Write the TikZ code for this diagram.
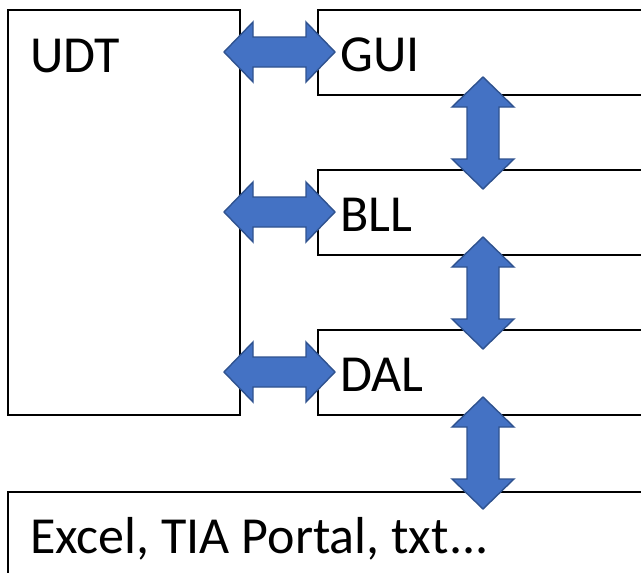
\documentclass[tikz,border=0pt]{standalone}
\usepackage{fontspec}
\setmainfont{Carlito}
\definecolor{arrowfill}{HTML}{4472C4}
\definecolor{arrowedge}{HTML}{2F528F}

% horizontal double block arrow centred at height #1
\newcommand{\hblockarrow}[2]{%
  \filldraw[blockarrow] (224,#1) -- ++(29,-30) -- ++(0,15) -- ++(53,0) -- ++(0,-15)
    -- (335,#1) -- ++(-29,30) -- ++(0,-15) -- ++(-53,0) -- ++(0,15) -- cycle;
  \coordinate (#2) at (279.5,#1);}
% vertical double block arrow with upper tip at #1
\newcommand{\vblockarrow}[2]{%
  \filldraw[blockarrow] (483,#1) -- ++(31,30) -- ++(-15,0) -- ++(0,52) -- ++(15,0)
    -- (483,#1+112) -- ++(-31,-30) -- ++(15,0) -- ++(0,-52) -- ++(-15,0) -- cycle;
  \coordinate (#2) at (483,#1+56);}

\begin{document}
\begin{tikzpicture}[x=1pt,y=-1pt,
  layer/.style={draw=black,line width=2pt,fill=white},
  blockarrow/.style={fill=arrowfill,draw=arrowedge,line width=1.4pt,line join=miter},
  lbl/.style={anchor=base west,inner sep=0pt,font=\fontsize{52}{58}\selectfont}]
\useasboundingbox (0,0) rectangle (641,573);
\begin{scope}
\clip (0,0) rectangle (641,573);
% layer boxes
\draw[layer] (8,10) rectangle (240,415);
\draw[layer] (318,10) rectangle (680,95);
\draw[layer] (318,170) rectangle (680,255);
\draw[layer] (318,330) rectangle (680,415);
\draw[layer] (8,492) rectangle (680,620);
\end{scope}
% labels
\node[lbl] (udt) at (30,72) {UDT};
\node[lbl] (gui) at (340,71) {GUI};
\node[lbl] (bll) at (340,231) {BLL};
\node[lbl] (dal) at (340,391) {DAL};
\node[lbl] (ext) at (30,553) {Excel, TIA Portal, txt...};
% arrows between the layers
\hblockarrow{52}{udtgui}
\hblockarrow{212}{udtbll}
\hblockarrow{372}{udtdal}
\vblockarrow{77}{guibll}
\vblockarrow{237}{blldal}
\vblockarrow{397}{dalext}
\end{tikzpicture}
\end{document}
